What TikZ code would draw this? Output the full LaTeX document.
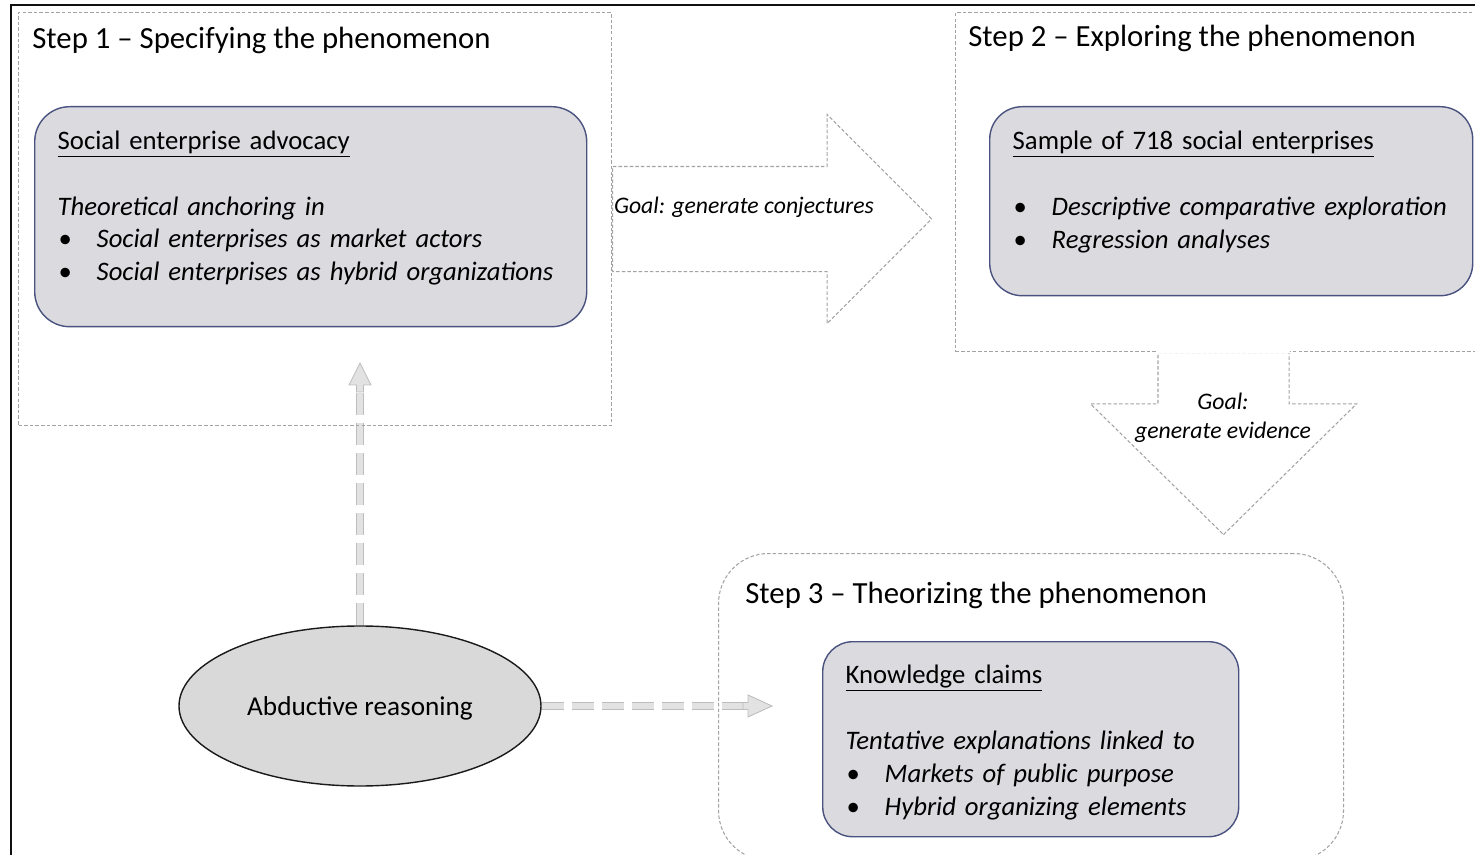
\documentclass[tikz,border=0pt]{standalone}
\usepackage{fontspec}
\setmainfont{Carlito}
\usepackage{xcolor}
\usepackage{tikz}
\usetikzlibrary{arrows.meta, positioning, shapes.geometric, shapes.arrows}
\definecolor{Ink}{HTML}{1A1A1A}
\definecolor{Frame}{HTML}{101010}
\definecolor{Dash}{HTML}{A3A3A3}
\definecolor{PanelFill}{HTML}{DBDBDF}
\definecolor{PanelLine}{HTML}{4A5380}
\definecolor{OvalFill}{HTML}{D9D9D9}
\definecolor{ShaftLine}{HTML}{BDBDBD}
\definecolor{ShaftFill}{HTML}{E2E2E2}

\newcommand{\sebullet}{\hspace*{0.02cm}\makebox[0.76cm][l]{\textbullet}}
\newcommand{\lowpad}[1]{\rule[-#1]{0pt}{#1}}

\begin{document}
\begin{tikzpicture}[
  y=-1cm,
  font=\fontsize{15.2}{18.7}\selectfont,
  stepbox/.style={draw=Dash, line width=0.6pt, dash pattern=on 2pt off 1.2pt, anchor=north west, inner sep=0pt},
  steptitle/.style={anchor=west, inner sep=0pt, font=\fontsize{17.5}{21}\selectfont},
  panel/.style={draw=PanelLine, line width=0.8pt, fill=PanelFill, anchor=north west, align=left, inner xsep=0.46cm, inner ysep=0pt},
  oval/.style={ellipse, draw=Ink, line width=0.8pt, fill=OvalFill, minimum width=7.24cm, minimum height=3.20cm, text depth=0pt, font=\fontsize{15.5}{18.7}\selectfont},
  goalarrow/.style={single arrow, draw=Dash, line width=0.6pt, dash pattern=on 2pt off 1.2pt, anchor=tail},
  goaltext/.style={font=\fontsize{13.5}{16.4}\selectfont\itshape, align=center, inner sep=0pt},
  shaft/.style={draw=ShaftLine, line width=0.5pt, double=ShaftFill, double distance=3pt, dash pattern=on 0.44cm off 0.16cm},
  shafthead/.style={draw=ShaftLine, line width=0.5pt, fill=ShaftFill, line join=miter}
]
\useasboundingbox (0,0) rectangle (29.5,17.1);
\draw[Frame, line width=1.1pt] (0.22,0.10) rectangle (29.8,17.4);

% abductive reasoning and its two links
\node[oval] (abd) at (7.20,14.12) {Abductive reasoning};
\coordinate (upneck) at (7.20,7.84);
\coordinate (rightneck) at (14.86,14.12);
\draw[shaft] (abd) -- (upneck);
\draw[shaft] (abd) -- (rightneck);
\draw[shafthead] (upneck) -- ++(0.07,0) -- ++(0,-0.14) -- ++(0.15,0) -- ++(-0.22,-0.44) -- ++(-0.22,0.44) -- ++(0.15,0) -- ++(0,0.14) -- cycle;
\draw[shafthead] (rightneck) -- ++(0,-0.07) -- ++(0.10,0) -- ++(0,-0.15) -- ++(0.48,0.22) -- ++(-0.48,0.22) -- ++(0,-0.15) -- ++(-0.10,0) -- cycle;

% the three steps
\node[stepbox, minimum width=11.86cm, minimum height=8.26cm] (step1) at (0.36,0.24) {};
\node[stepbox, minimum width=10.72cm, minimum height=6.78cm] (step2) at (19.10,0.24) {};
\node[stepbox, rounded corners=1.0cm, minimum width=12.50cm, minimum height=6.14cm] (step3) at (14.36,11.06) {};
\node[steptitle] (title1) at ([shift={(0.28,0.56)}]step1.north west) {Step 1 -- Specifying the phenomenon};
\node[steptitle] (title2) at ([shift={(0.26,0.52)}]step2.north west) {Step 2 -- Exploring the phenomenon};
\node[steptitle] (title3) at ([shift={(0.54,0.84)}]step3.north west) {Step 3 -- Theorizing the phenomenon};

\node[panel, rounded corners=0.7cm, text width=10.12cm, minimum height=4.40cm] (advocacy) at (0.68,2.12)
  {\underline{Social enterprise advocacy}\\[0.66cm]
   \textit{Theoretical anchoring in}\\
   \sebullet\textit{Social enterprises as market actors}\\
   \sebullet\textit{Social enterprises as hybrid organizations}\lowpad{0.44cm}};
\node[panel, rounded corners=0.65cm, text width=8.74cm, minimum height=3.78cm] (sample) at (19.78,2.12)
  {\underline{Sample of 718 social enterprises}\\[0.66cm]
   \sebullet\textit{Descriptive comparative exploration}\\
   \sebullet\textit{Regression analyses}\lowpad{0.46cm}};
\node[panel, rounded corners=0.6cm, text width=7.40cm, minimum height=3.90cm] (claims) at (16.44,12.82)
  {\rule{0pt}{0.50cm}\underline{Knowledge claims}\\[0.66cm]
   \textit{Tentative explanations linked to}\\
   \sebullet\textit{Markets of public purpose}\\
   \sebullet\textit{Hybrid organizing elements}};

% goal arrows between the steps
\node[goalarrow, inner xsep=0pt, inner ysep=1.04cm, minimum height=6.38cm, minimum width=4.16cm, single arrow head extend=1.04cm, single arrow tip angle=90] (conj) at (step1.east) {};
\node[goaltext] (conjlabel) at (14.88,4.14) {Goal: generate conjectures};
\node[goalarrow, shape border rotate=270, inner xsep=1.30cm, inner ysep=0pt, minimum height=3.64cm, minimum width=5.30cm, single arrow head extend=1.35cm, single arrow tip angle=91] (evid) at (step2.south) {};
\draw[white, line width=1.6pt] (evid.before tail) -- (evid.after tail);
\node[goaltext] (evidlabel) at (24.46,8.36) {Goal:\\generate evidence};
\end{tikzpicture}
\end{document}
